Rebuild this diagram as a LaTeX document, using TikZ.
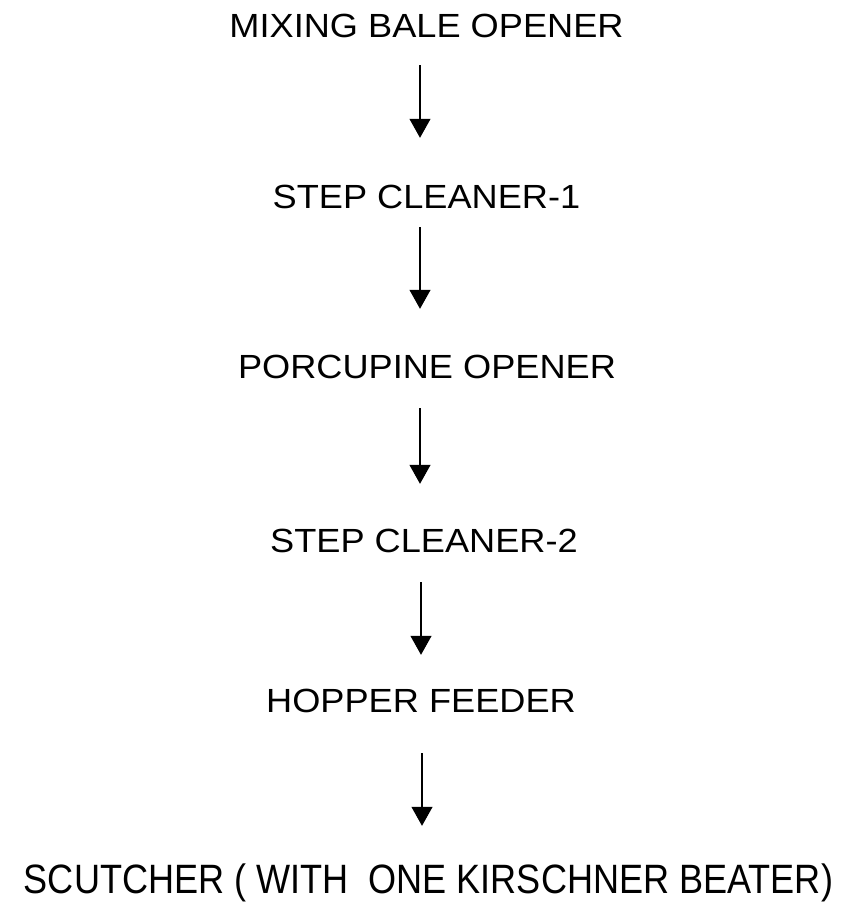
\documentclass[tikz,border=0pt]{standalone}
\usepackage{fontspec}
\setmainfont{Liberation Sans}
\usetikzlibrary{arrows.meta}
\begin{document}
\begin{tikzpicture}[x=1pt,y=-1pt,
  lbl/.style={inner sep=0pt, anchor=base, text height=24pt, text depth=0pt,
    font=\fontsize{33.5}{40}\selectfont},
  biglbl/.style={inner sep=0pt, anchor=base, text height=29pt, text depth=0pt,
    font=\fontsize{41}{48}\selectfont},
  flow/.style={line width=1.1pt, -{Triangle[width=21pt,length=19pt]}}]
\useasboundingbox[fill=white] (0,0) rectangle (860,902);
\coordinate (ax) at (420,0);
\node[lbl] (n1) at (426.5,37) {\scalebox{1.08}[1]{MIXING BALE OPENER}};
\node[lbl] (n2) at (426.5,208) {\scalebox{1.08}[1]{STEP CLEANER-1}};
\node[lbl] (n3) at (427,378) {\scalebox{1.08}[1]{PORCUPINE OPENER}};
\node[lbl] (n4) at (424,552) {\scalebox{1.08}[1]{STEP CLEANER-2}};
\node[lbl] (n5) at (421,712) {\scalebox{1.08}[1]{HOPPER FEEDER}};
\node[biglbl] (n6) at (428.5,893) {\scalebox{0.88}[1]{SCUTCHER ( WITH\ \ ONE KIRSCHNER BEATER)}};
\draw[flow, shorten <=28pt, shorten >=46pt] (n1.south -| ax) -- (n2.north -| ax);
\draw[flow, shorten <=19pt, shorten >=45pt] (n2.south -| ax) -- (n3.north -| ax);
\draw[flow, shorten <=30pt, shorten >=44pt] (n3.south -| ax) -- (n4.north -| ax);
\draw[flow, shorten <=30pt, shorten >=33pt] ([xshift=1pt]n4.south -| ax) -- ([xshift=1pt]n5.north -| ax);
\draw[flow, shorten <=41pt, shorten >=38pt] ([xshift=2pt]n5.south -| ax) -- ([xshift=2pt]n6.north -| ax);
\end{tikzpicture}
\end{document}
